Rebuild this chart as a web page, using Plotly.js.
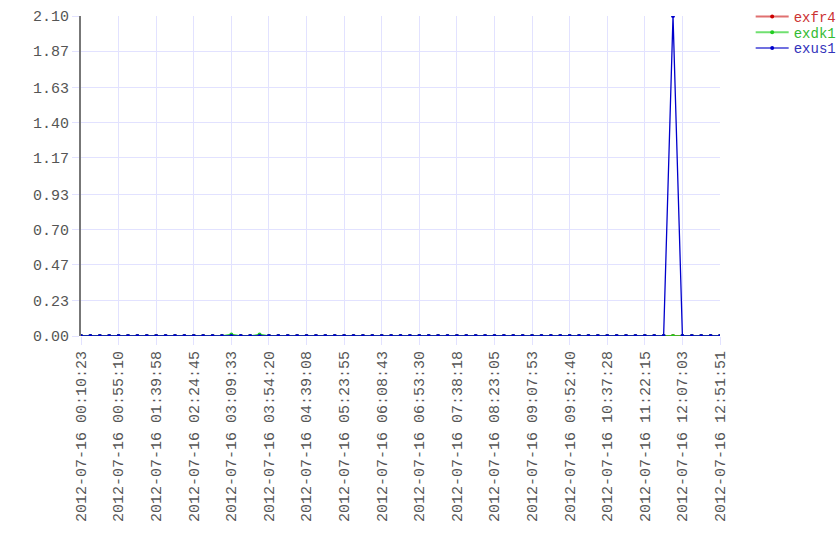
<!DOCTYPE html>
<html><head><meta charset="utf-8">
<script src="https://cdn.plot.ly/plotly-3.0.1.min.js"></script>
<style>body{margin:0;background:#fff}#c{width:840px;height:560px}</style>
</head><body><div id="c"></div>
<script>
const tickLabels = ["2012-07-16 00:10:23","2012-07-16 00:55:10","2012-07-16 01:39:58","2012-07-16 02:24:45","2012-07-16 03:09:33","2012-07-16 03:54:20","2012-07-16 04:39:08","2012-07-16 05:23:55","2012-07-16 06:08:43","2012-07-16 06:53:30","2012-07-16 07:38:18","2012-07-16 08:23:05","2012-07-16 09:07:53","2012-07-16 09:52:40","2012-07-16 10:37:28","2012-07-16 11:22:15","2012-07-16 12:07:03","2012-07-16 12:51:51"];
const tickIdx = [0,4,8,12,16,20,24,28,32,36,40,44,48,52,56,60,64,68];
const yTicks = [0,0.23,0.47,0.70,0.93,1.17,1.40,1.63,1.87,2.10];
const seriesNames = ["exfr4","exdk1","exus1"];
const exfr4 = [0,0,0,0,0,0,0,0,0,0,0,0,0,0,0,0,0,0,0,0,0,0,0,0,0,0,0,0,0,0,0,0,0,0,0,0,0,0,0,0,0,0,0,0,0,0,0,0,0,0,0,0,0,0,0,0,0,0,0,0,0,0,0,0,0,0,0,0,0];
const exdk1 = [0,0,0,0,0,0,0,0,0,0,0,0,0,0,0,0,0.01,0,0,0.01,0,0,0,0,0,0,0,0,0,0,0,0,0,0,0,0,0,0,0,0,0,0,0,0,0,0,0,0,0,0,0,0,0,0,0,0,0,0,0,0,0,0,0,0,0,0,0,0,0];
const exus1 = [0,0,0,0,0,0,0,0,0,0,0,0,0,0,0,0,0,0,0,0,0,0,0,0,0,0,0,0,0,0,0,0,0,0,0,0,0,0,0,0,0,0,0,0,0,0,0,0,0,0,0,0,0,0,0,0,0,0,0,0,0,0,0,2.10,0,0,0,0,0];
const idx = exus1.map((_,i)=>i);
const FONT='"Liberation Mono", "Courier New", monospace';
const styles=[
 {text:'#cc3333',line:'#cc0000',leg:'#e07070'},
 {text:'#33bb33',line:'#22cc22',leg:'#70e070'},
 {text:'#3333bb',line:'#0000cc',leg:'#7070e0'}];
const ys=[exfr4,exdk1,exus1];
const legendKeys=['legend','legend2','legend3'];
const data=[];
ys.forEach((y,k)=>{
  data.push({x:idx,y:y,name:seriesNames[k],mode:'lines+markers',showlegend:false,
    line:{color:styles[k].line,width:1.3},marker:{color:styles[k].line,size:4}});
});
ys.forEach((y,k)=>{
  data.push({x:[null],y:[null],name:seriesNames[k],mode:'lines+markers',legend:legendKeys[k],
    line:{color:styles[k].leg,width:2},marker:{color:styles[k].line,size:4}});
});
const font={family:FONT,size:15,color:'#555'};
const grid='#e2e2ff';
const layout={width:840,height:560,margin:{l:81,r:120,t:16,b:224,autoexpand:false},paper_bgcolor:'#fff',plot_bgcolor:'#fff',font:font,
 xaxis:{range:[0,68],tickvals:tickIdx,ticktext:tickLabels,tickangle:-90,gridcolor:grid,showline:false,zeroline:false,ticks:'outside',ticklen:8,tickcolor:grid,automargin:false},
 yaxis:{range:[0,2.1],tickvals:yTicks,tickformat:'.2f',gridcolor:grid,showline:true,linecolor:'#777',linewidth:2,zeroline:false,ticks:'outside',ticklen:7,tickcolor:grid,automargin:false},
 showlegend:true};
[0,1,2].forEach(k=>{
  layout[legendKeys[k]]={x:1.048,y:1.0+ (15 - k*15.7)/320,xanchor:'left',yanchor:'top',itemwidth:33,
    font:{family:FONT,size:14,color:styles[k].text},bgcolor:'rgba(0,0,0,0)'};
});
Plotly.newPlot('c',data,layout,{displayModeBar:false});
</script></body></html>
